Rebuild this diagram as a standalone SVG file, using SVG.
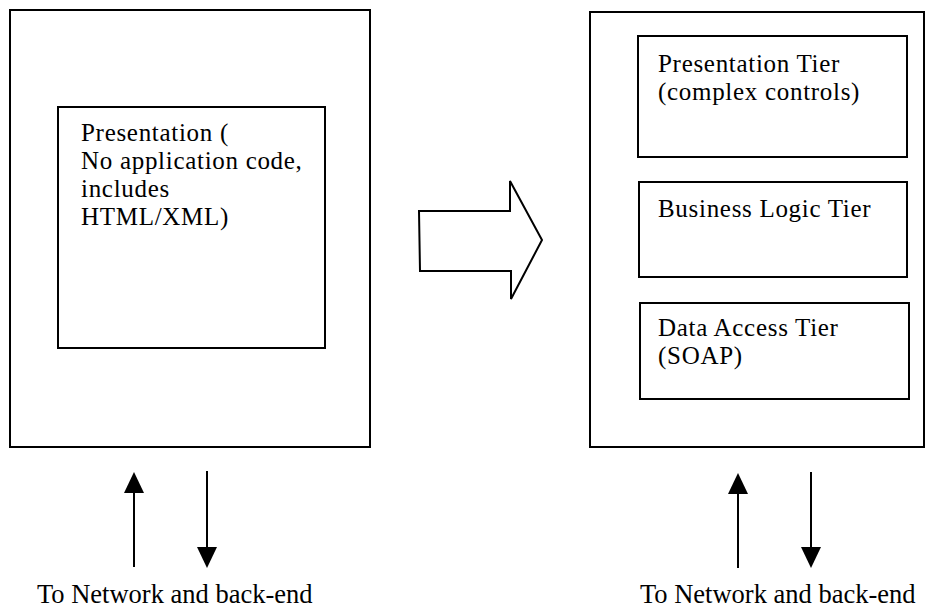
<svg xmlns="http://www.w3.org/2000/svg" width="925" height="610" viewBox="0 0 925 610">
<style>
.box{fill:none;stroke:#000;stroke-width:2}
.t{font-family:"Liberation Serif","Times New Roman","DejaVu Serif",serif;font-size:25px;letter-spacing:0.7px;fill:#000}
.b{font-family:"Liberation Serif","Times New Roman","DejaVu Serif",serif;font-size:26.5px;fill:#000}
.ln{stroke:#000;stroke-width:2;fill:none}
.hd{fill:#000}
</style>
<rect width="925" height="610" fill="#fff"/>
<g id="left-client">
<rect class="box" x="10" y="10" width="360" height="437"/>
</g>
<g id="left-presentation">
<rect class="box" x="58" y="107" width="267" height="241"/>
<text class="t" x="81" y="141">Presentation (<tspan x="81" dy="28">No application code,</tspan><tspan x="81" dy="28">includes</tspan><tspan x="81" dy="28">HTML/XML)</tspan></text>
</g>
<g id="transition-arrow">
<path class="box" d="M419,211 H510 V181 L542,240 L511,299 V271 H420 Z"/>
</g>
<g id="right-client">
<rect class="box" x="590" y="12" width="334" height="435"/>
</g>
<g id="presentation-tier">
<rect class="box" x="638" y="36" width="269" height="121"/>
<text class="t" x="658" y="72">Presentation Tier<tspan x="658" dy="28">(complex controls)</tspan></text>
</g>
<g id="business-tier">
<rect class="box" x="639" y="182" width="268" height="95"/>
<text class="t" x="658" y="217">Business Logic Tier</text>
</g>
<g id="data-tier">
<rect class="box" x="640" y="303" width="269" height="96"/>
<text class="t" x="658" y="336">Data Access Tier<tspan x="658" dy="28">(SOAP)</tspan></text>
</g>
<g id="connectors">
<line class="ln" x1="134" y1="567" x2="134" y2="490"/>
<polygon class="hd" points="134,472 124,493 144,493"/>
<line class="ln" x1="207" y1="471" x2="207" y2="550"/>
<polygon class="hd" points="207,568 197,547 217,547"/>
<line class="ln" x1="738" y1="568" x2="738" y2="490"/>
<polygon class="hd" points="738,473 728,494 748,494"/>
<line class="ln" x1="811" y1="472" x2="811" y2="550"/>
<polygon class="hd" points="811,568 801,547 821,547"/>
</g>
<g id="labels">
<text class="b" x="37" y="603">To Network and back-end</text>
<text class="b" x="640" y="603">To Network and back-end</text>
</g>
</svg>
